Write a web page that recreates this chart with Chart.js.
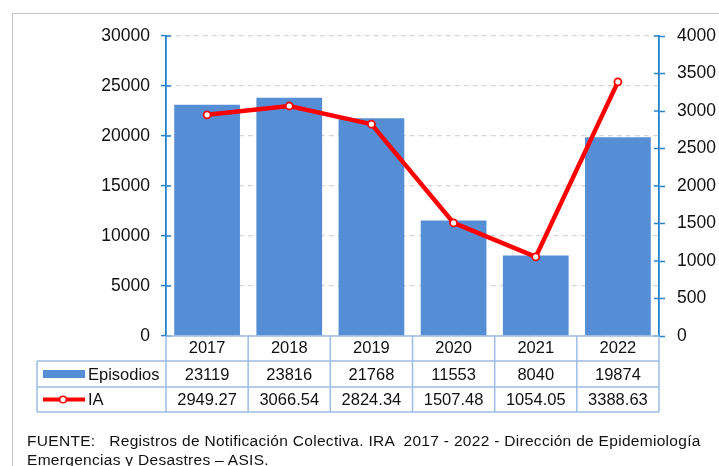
<!DOCTYPE html>
<html>
<head>
<meta charset="utf-8">
<script src="https://cdn.jsdelivr.net/npm/chart.js@4"></script>
<style>
    body { margin: 0; background: #fff; width: 719px; height: 466px; overflow: hidden; position: relative; }
    #frame { position: absolute; left: 12px; top: 13px; width: 720px; height: 470px; border: 1px solid #c4c4c4; }
    #myChart { position: absolute; left: 0; top: 0; }
    #fuente {
        position: absolute; left: 27px; top: 431px;
        font-family: "Liberation Sans", Arial, sans-serif;
        font-size: 15.5px; line-height: 19px; color: #111; white-space: pre; letter-spacing: 0.3px;
    }
</style>
</head>
<body>
<div id="frame"></div>
<canvas id="myChart" width="719" height="466"></canvas>
<div id="fuente">FUENTE:   Registros de Notificación Colectiva. IRA  2017 - 2022 - Dirección de Epidemiología
Emergencias y Desastres – ASIS.</div>

<script>
const years = ["2017", "2018", "2019", "2020", "2021", "2022"];
const episodios = [23119, 23816, 21768, 11553, 8040, 19874];
const ia = [2949.27, 3066.54, 2824.34, 1507.48, 1054.05, 3388.63];
const iaLabels = ["2949.27", "3066.54", "2824.34", "1507.48", "1054.05", "3388.63"];
const leftAxis = { min: 0, max: 30000, step: 5000 };
const rightAxis = { min: 0, max: 4000, step: 500 };

const barColor = "#558ED5";
const lineColor = "#FF0000";
const axisBlue = "#2383CF";
const tableColor = "#9DBDE5";
const font = "Liberation Sans, Arial, sans-serif";

// table under the plot (legend + values), drawn on the canvas
const tablePlugin = {
    id: "dataTable",
    afterDraw(chart) {
        const ctx = chart.ctx;
        const area = chart.chartArea;
        const x = chart.scales.x;
        const colW = (area.right - area.left) / years.length;
        const rows = [area.bottom, area.bottom + 25, area.bottom + 51, area.bottom + 76];
        const tableLeft = 37;

        ctx.save();

        // inner half of the axis ticks
        ctx.strokeStyle = axisBlue;
        ctx.lineWidth = 1.5;
        chart.scales.y.ticks.forEach(t => {
            const py = chart.scales.y.getPixelForValue(t.value);
            ctx.beginPath(); ctx.moveTo(area.left, py); ctx.lineTo(area.left + 5, py); ctx.stroke();
        });
        chart.scales.y1.ticks.forEach(t => {
            const py = chart.scales.y1.getPixelForValue(t.value);
            ctx.beginPath(); ctx.moveTo(area.right - 5, py); ctx.lineTo(area.right, py); ctx.stroke();
        });

        // grid of the table
        ctx.strokeStyle = tableColor;
        ctx.lineWidth = 1.5;
        ctx.beginPath();
        ctx.moveTo(area.left, rows[0]); ctx.lineTo(area.right, rows[0]);
        for (let r = 1; r < rows.length; r++) {
            ctx.moveTo(tableLeft, rows[r]); ctx.lineTo(area.right, rows[r]);
        }
        ctx.moveTo(tableLeft, rows[1]); ctx.lineTo(tableLeft, rows[3]);
        for (let i = 0; i <= years.length; i++) {
            const cx = area.left + i * colW;
            ctx.moveTo(cx, rows[0]); ctx.lineTo(cx, rows[3]);
        }
        ctx.stroke();

        // values
        ctx.fillStyle = "#111";
        ctx.font = "16.5px " + font;
        ctx.textAlign = "center";
        ctx.textBaseline = "middle";
        years.forEach((y, i) => {
            const cx = x.getPixelForValue(i);
            ctx.fillText(String(episodios[i]), cx, (rows[1] + rows[2]) / 2 + 1);
            ctx.fillText(iaLabels[i], cx, (rows[2] + rows[3]) / 2 + 1);
        });

        // legend keys
        const r1 = (rows[1] + rows[2]) / 2;
        const r2 = (rows[2] + rows[3]) / 2;
        ctx.fillStyle = barColor;
        ctx.fillRect(43, r1 - 4, 42, 8);
        ctx.strokeStyle = lineColor;
        ctx.lineWidth = 4;
        ctx.beginPath(); ctx.moveTo(43, r2); ctx.lineTo(85, r2); ctx.stroke();
        ctx.fillStyle = "#fff";
        ctx.lineWidth = 1.5;
        ctx.beginPath(); ctx.arc(63, r2, 3.3, 0, Math.PI * 2); ctx.fill(); ctx.stroke();

        ctx.fillStyle = "#111";
        ctx.textAlign = "left";
        ctx.fillText("Episodios", 88, r1 + 1);
        ctx.fillText("IA", 88, r2 + 1);

        ctx.restore();
    }
};

const plain = (v) => String(v);

const ctx = document.getElementById("myChart").getContext("2d");

const chart = new Chart(ctx, {
    data: {
        labels: years,
        datasets: [
            {
                type: "line",
                label: "IA",
                data: ia,
                yAxisID: "y1",
                borderColor: lineColor,
                borderWidth: 4.5,
                pointRadius: 3.5,
                pointBackgroundColor: "#fff",
                pointBorderColor: lineColor,
                pointBorderWidth: 1.8,
                tension: 0,
                order: 0
            },
            {
                type: "bar",
                label: "Episodios",
                data: episodios,
                yAxisID: "y",
                backgroundColor: barColor,
                barPercentage: 0.8,
                categoryPercentage: 1,
                order: 1
            }
        ]
    },
    options: {
        responsive: false,
        animation: false,
        devicePixelRatio: 1,
        layout: { padding: { top: 36, left: 0, right: 0, bottom: 105 } },
        plugins: {
            legend: { display: false },
            tooltip: { enabled: false }
        },
        scales: {
            x: {
                grid: { display: false, drawTicks: false, tickLength: 0 },
                border: { display: false },
                ticks: { color: "#111", font: { family: font, size: 16.5 }, padding: 3 },
                afterFit: (s) => { s.height = 25; }
            },
            y: {
                position: "left",
                min: leftAxis.min,
                max: leftAxis.max,
                ticks: { stepSize: leftAxis.step, color: "#111", font: { family: font, size: 17.5 }, padding: 11, callback: plain },
                grid: { color: "#D6D6D6", lineWidth: 1.2, tickColor: axisBlue, tickLength: 5, tickWidth: 1.5 },
                border: { color: axisBlue, width: 1.8, dash: [5, 4] },
                afterFit: (s) => { s.width = 166; }
            },
            y1: {
                position: "right",
                min: rightAxis.min,
                max: rightAxis.max,
                ticks: { stepSize: rightAxis.step, color: "#111", font: { family: font, size: 17.5 }, padding: 12, callback: plain },
                grid: { drawOnChartArea: false, tickColor: axisBlue, tickLength: 6, tickWidth: 1.5 },
                border: { color: axisBlue, width: 1.8 },
                afterFit: (s) => { s.width = 60; }
            }
        }
    },
    plugins: [tablePlugin]
});
</script>
</body>
</html>
